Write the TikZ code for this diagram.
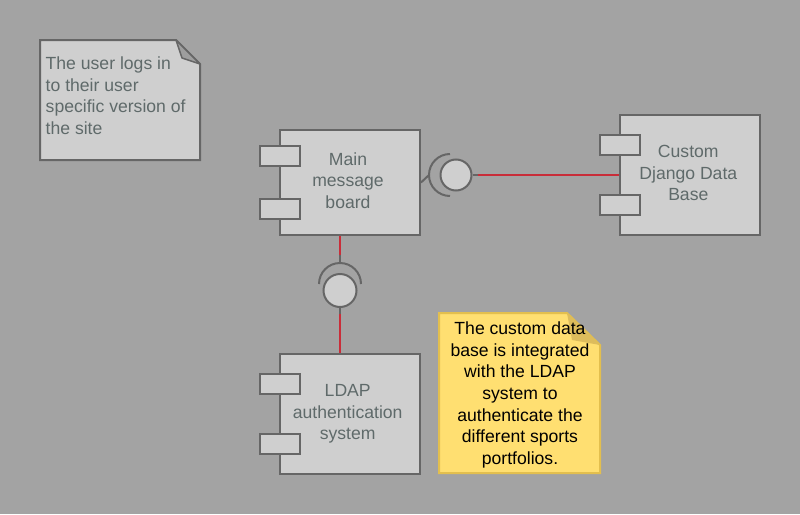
\documentclass[tikz,border=0pt]{standalone}
\usepackage{fontspec}
\setmainfont{Liberation Sans}
\definecolor{bgcol}{HTML}{A3A3A3}
\definecolor{boxfill}{HTML}{CFCFCF}
\definecolor{bordercol}{HTML}{666666}
\definecolor{textcol}{HTML}{5F6A6A}
\definecolor{linkred}{HTML}{C92D39}
\definecolor{foldgray}{HTML}{9E9E9E}
\definecolor{notefill}{HTML}{FFDF71}
\definecolor{noteborder}{HTML}{E3BF4E}
\definecolor{notefold}{HTML}{DDBC5C}
\newcommand{\diafont}{\fontsize{17.6}{21.6}\selectfont}
\begin{document}
\begin{tikzpicture}[x=1pt,y=-1pt,
  comp/.style={draw=bordercol, line width=2pt, fill=boxfill, minimum width=140pt, inner sep=0pt},
  port/.style={draw=bordercol, line width=2pt, fill=boxfill, minimum width=40pt, minimum height=20pt, inner sep=0pt},
  lbl/.style={text=textcol, align=center, inner sep=0pt, anchor=north, font=\diafont},
  ball/.style={circle, draw=bordercol, line width=2pt, fill=boxfill, inner sep=0pt},
  iface/.style={draw=bordercol, line width=2pt},
  link/.style={draw=linkred, line width=2pt}]
\fill[bgcol] (0,0) rectangle (800,514);
\useasboundingbox (0,0) rectangle (800,514);

% note 1
\draw[bordercol, line width=2pt, fill=boxfill] (40,40) -- (176,40) -- (200,64) -- (200,160) -- (40,160) -- cycle;
\draw[bordercol, line width=1.5pt, fill=foldgray, line join=round] (176,40) -- (200,64) -- (182,58) -- cycle;
\node[text=textcol, align=left, inner sep=0pt, anchor=north west, font=\diafont] (note1) at (45.5,56.8)
  {The user logs in\\to their user\\specific version of\\the site};

% components
\node[comp, minimum height=105pt] (main) at (350,182.5) {};
\node[port] (mainp1) at (280,156) {};
\node[port] (mainp2) at (280,209) {};
\node[lbl] (maintxt) at (348,152.2) {Main\\message\\board};

\node[comp, minimum height=120pt] (db) at (690,175) {};
\node[port] (dbp1) at (620,145) {};
\node[port] (dbp2) at (620,205) {};
\node[lbl] (dbtxt) at (688.3,145.2) {Custom\\Django Data\\Base};

\node[comp, minimum height=120pt] (ldap) at (350,414) {};
\node[port] (ldapp1) at (280,384) {};
\node[port] (ldapp2) at (280,444) {};
\node[lbl] (ldaptxt) at (347.7,384.2) {LDAP\\authentication\\system};

% horizontal interface
\coordinate (sock1) at (429,175);
\coordinate (r1) at (478,175);
\node[ball, minimum size=31pt] (ball1) at (456,175) {};
\draw[iface] (main.east) -- (sock1);
\draw[iface] (450,154) arc[start angle=-90, end angle=-270, radius=21];
\draw[iface] (ball1.east) -- (r1);
\draw[link] (r1) -- (db.west);

% vertical interface
\coordinate (r2) at (340,255);
\coordinate (sock2) at (340,263);
\coordinate (r3) at (340,314);
\node[ball, minimum size=33pt] (ball2) at (340,290.5) {};
\draw[link] (main.south -| r2) -- (r2);
\draw[iface] (r2) -- (sock2);
\draw[iface] (319,284) arc[start angle=180, end angle=360, radius=21];
\draw[iface] (ball2.south) -- (r3);
\draw[link] (r3) -- (ldap.north -| r3);

% note 2
\draw[noteborder, line width=2pt, fill=notefill] (439,313) -- (567,313) -- (600,345) -- (600,473) -- (439,473) -- cycle;
\fill[notefold] (567,313) -- (600,345) -- (572,340) -- cycle;
\node[text=black, align=center, inner sep=0pt, anchor=north, font=\diafont] (note2) at (520,321.8)
  {The custom data\\base is integrated\\with the LDAP\\system to\\authenticate the\\different sports\\portfolios.};
\end{tikzpicture}
\end{document}
